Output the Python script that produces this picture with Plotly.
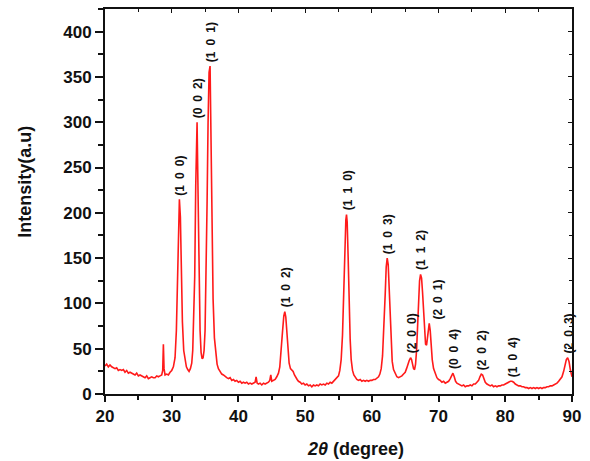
import numpy as np
import plotly.graph_objects as go

# XRD pattern: diffraction angle (2θ, degrees) and measured intensity (a.u.)
two_theta = [
    20.00, 20.25, 20.50, 20.75, 21.00, 21.25, 21.50, 21.75, 22.00, 22.25,
    22.50, 22.75, 23.00, 23.25, 23.50, 23.75, 24.00, 24.25, 24.50, 24.75,
    25.00, 25.25, 25.50, 25.75, 26.00, 26.25, 26.50, 26.75, 27.00, 27.25,
    27.50, 27.75, 28.00, 28.25, 28.50, 28.65, 28.75, 28.85, 29.00, 29.25,
    29.50, 29.75, 30.00, 30.25, 30.50, 30.70, 30.85, 31.00, 31.15, 31.30,
    31.45, 31.60, 31.80, 32.00, 32.20, 32.40, 32.60, 32.80, 33.00, 33.15,
    33.30, 33.45, 33.60, 33.70, 33.80, 33.95, 34.10, 34.25, 34.40, 34.55,
    34.70, 34.85, 35.00, 35.15, 35.30, 35.45, 35.60, 35.75, 35.90, 36.05,
    36.20, 36.40, 36.60, 36.80, 37.00, 37.25, 37.50, 37.75, 38.00, 38.25,
    38.50, 38.75, 39.00, 39.25, 39.50, 39.75, 40.00, 40.25, 40.50, 40.75,
    41.00, 41.25, 41.50, 41.75, 42.00, 42.25, 42.50, 42.65, 42.80, 43.00,
    43.25, 43.50, 43.75, 44.00, 44.25, 44.50, 44.70, 44.85, 45.00, 45.25,
    45.50, 45.75, 46.00, 46.20, 46.40, 46.60, 46.80, 46.95, 47.10, 47.25,
    47.40, 47.60, 47.80, 48.00, 48.20, 48.40, 48.60, 48.80, 49.00, 49.25,
    49.50, 49.75, 50.00, 50.25, 50.50, 50.75, 51.00, 51.25, 51.50, 51.75,
    52.00, 52.25, 52.50, 52.75, 53.00, 53.25, 53.50, 53.75, 54.00, 54.25,
    54.50, 54.75, 55.00, 55.20, 55.40, 55.60, 55.80, 55.95, 56.10, 56.20,
    56.30, 56.45, 56.60, 56.75, 56.90, 57.10, 57.30, 57.50, 57.75, 58.00,
    58.25, 58.50, 58.75, 59.00, 59.25, 59.50, 59.75, 60.00, 60.25, 60.50,
    60.75, 61.00, 61.20, 61.40, 61.60, 61.80, 62.00, 62.15, 62.30, 62.45,
    62.60, 62.75, 62.90, 63.05, 63.25, 63.50, 63.75, 64.00, 64.25, 64.50,
    64.75, 65.00, 65.20, 65.40, 65.60, 65.80, 65.95, 66.10, 66.25, 66.40,
    66.55, 66.70, 66.85, 67.00, 67.15, 67.30, 67.45, 67.60, 67.75, 67.90,
    68.05, 68.20, 68.35, 68.50, 68.60, 68.75, 68.90, 69.05, 69.25, 69.50,
    69.75, 70.00, 70.25, 70.50, 70.75, 71.00, 71.25, 71.50, 71.75, 71.95,
    72.15, 72.35, 72.55, 72.75, 73.00, 73.25, 73.50, 73.75, 74.00, 74.25,
    74.50, 74.75, 75.00, 75.25, 75.50, 75.75, 76.00, 76.20, 76.40, 76.60,
    76.80, 77.00, 77.25, 77.50, 77.75, 78.00, 78.25, 78.50, 78.75, 79.00,
    79.25, 79.50, 79.75, 80.00, 80.25, 80.50, 80.75, 81.00, 81.25, 81.50,
    81.75, 82.00, 82.25, 82.50, 82.75, 83.00, 83.25, 83.50, 83.75, 84.00,
    84.25, 84.50, 84.75, 85.00, 85.25, 85.50, 85.75, 86.00, 86.25, 86.50,
    86.75, 87.00, 87.25, 87.50, 87.75, 88.00, 88.25, 88.50, 88.75, 88.95,
    89.15, 89.35, 89.55, 89.75, 90.00,
]
intensity = [
    31, 33, 30, 32, 30, 29, 28, 29, 26, 27,
    26, 27, 24, 26, 23, 24, 23, 22, 21, 23,
    20, 21, 20, 19, 18, 20, 17, 18, 19, 18,
    18, 20, 19, 20, 21, 26, 55, 28, 21, 22,
    21, 24, 26, 30, 40, 70, 130, 190, 215, 195,
    135, 80, 48, 36, 30, 27, 25, 28, 34, 48,
    80, 130, 230, 285, 300, 220, 120, 70, 46, 39,
    40, 48, 70, 125, 210, 300, 355, 362, 270, 170,
    105, 62, 43, 33, 28, 25, 22, 21, 19, 18,
    17, 18, 15, 16, 14, 15, 13, 14, 12, 13,
    12, 13, 11, 12, 11, 12, 13, 19, 12, 11,
    12, 10, 12, 11, 12, 13, 15, 21, 14, 15,
    16, 19, 23, 30, 45, 68, 86, 91, 85, 68,
    48, 34, 28, 26, 25, 21, 18, 16, 14, 13,
    11, 12, 10, 11, 9, 10, 8, 10, 9, 10,
    9, 11, 10, 11, 10, 12, 11, 13, 12, 14,
    15, 17, 20, 26, 38, 65, 115, 165, 192, 198,
    190, 150, 100, 60, 38, 26, 21, 18, 16, 15,
    16, 14, 15, 14, 15, 14, 15, 15, 16, 16,
    18, 19, 22, 28, 42, 70, 110, 140, 150, 143,
    115, 78, 50, 36, 27, 22, 19, 18, 19, 20,
    22, 24, 28, 33, 37, 40, 38, 33, 28, 27,
    33, 48, 75, 105, 125, 132, 128, 112, 88, 66,
    55, 54, 64, 76, 78, 70, 52, 38, 28, 22,
    18, 16, 15, 13, 14, 12, 13, 14, 17, 21,
    23, 19, 14, 12, 11, 10, 9, 10, 8, 9,
    9, 10, 9, 11, 11, 13, 15, 19, 22, 21,
    17, 13, 11, 10, 9, 10, 8, 9, 8, 9,
    9, 10, 10, 11, 12, 13, 14, 14, 13, 11,
    10, 9, 9, 8, 8, 7, 7, 6, 7, 6,
    7, 6, 7, 6, 7, 6, 7, 7, 8, 8,
    9, 9, 10, 11, 12, 14, 16, 19, 25, 32,
    38, 40, 36, 27, 19,
]

# Indexed reflections (Miller indices) and their peak positions
peak_hkl = ["(1 0 0)", "(0 0 2)", "(1 0 1)", "(1 0 2)", "(1 1 0)", "(1 0 3)",
            "(2 0 0)", "(1 1 2)", "(2 0 1)", "(0 0 4)", "(2 0 2)", "(1 0 4)",
            "(2 0 3)"]
peak_two_theta = [31.15, 33.80, 35.75, 46.95, 56.20, 62.30, 65.80, 67.30,
                  68.60, 72.15, 76.40, 81.00, 89.35]

x_tick_values = [20, 30, 40, 50, 60, 70, 80, 90]
y_tick_values = [0, 50, 100, 150, 200, 250, 300, 350, 400]

FONT = "Arial, 'Liberation Sans', sans-serif"
RED = "#ff1a1a"

tt = np.array(two_theta)
yy = np.array(intensity)

fig = go.Figure()
fig.add_trace(go.Scatter(
    x=two_theta, y=intensity, mode="lines",
    line=dict(color=RED, width=1.6), showlegend=False, hoverinfo="skip",
))
# companion trace so the mirrored frame axes (top/right) are drawn
fig.add_trace(go.Scatter(x=[20], y=[0], xaxis="x2", yaxis="y2", mode="markers",
                         marker=dict(opacity=0), showlegend=False, hoverinfo="skip"))

# hkl labels, rotated, sitting on the top of each peak
for hkl, pos in zip(peak_hkl, peak_two_theta):
    window = (tt > pos - 0.35) & (tt < pos + 0.35)
    top = yy[window].max()
    fig.add_annotation(
        x=pos, y=top, xref="x", yref="y",
        text="<b>" + hkl.replace(" ", "\u2002") + "</b>",
        textangle=-90, showarrow=False,
        xanchor="center", yanchor="bottom",
        xshift=9 if hkl == "(2 0 1)" else 1, yshift=2,
        font=dict(family=FONT, size=12, color="#111111"),
    )

# axis titles
fig.add_annotation(
    x=0.5 + 17 / 474, y=-0.142, xref="paper", yref="paper",
    text="<b><i>2θ</i> (degree)</b>", showarrow=False,
    xanchor="center", yanchor="middle",
    font=dict(family=FONT, size=18, color="#111111"),
)
fig.add_annotation(
    x=-82 / 474, y=0.5 + 20 / 385, xref="paper", yref="paper",
    text="<b>Intensity(a.u)</b>", textangle=-90, showarrow=False,
    xanchor="center", yanchor="middle",
    font=dict(family=FONT, size=18, color="#111111"),
)

axis_common = dict(
    showgrid=False, zeroline=False, linecolor="#111111", linewidth=2,
    tickcolor="#111111", tickwidth=1.5,
    tickfont=dict(family=FONT, size=17, color="#111111"),
)

fig.update_layout(
    width=590, height=461,
    margin=dict(l=105, r=11, t=9, b=67),
    paper_bgcolor="white", plot_bgcolor="white",
    font=dict(family=FONT),
    xaxis=dict(
        range=[20, 90], tickvals=x_tick_values,
        ticktext=[f"<b>{v}</b>" for v in x_tick_values],
        ticks="outside", ticklen=6,
        minor=dict(dtick=5, tick0=20, ticks="outside", ticklen=4,
                   tickcolor="#111111", tickwidth=1.5),
        **axis_common,
    ),
    yaxis=dict(
        range=[0, 425], tickvals=y_tick_values,
        ticktext=[f"<b>{v}</b>" for v in y_tick_values],
        ticks="outside", ticklen=8,
        minor=dict(dtick=25, tick0=0, ticks="outside", ticklen=5,
                   tickcolor="#111111", tickwidth=1.5),
        **axis_common,
    ),
    xaxis2=dict(
        range=[20, 90], overlaying="x", side="top", anchor="y",
        tickvals=x_tick_values, showticklabels=False,
        ticks="inside", ticklen=4,
        minor=dict(dtick=5, tick0=20, ticks="inside", ticklen=3,
                   tickcolor="#111111", tickwidth=1),
        showgrid=False, zeroline=False, linecolor="#111111", linewidth=2,
        tickcolor="#111111", tickwidth=1,
    ),
    yaxis2=dict(
        range=[0, 425], overlaying="y", side="right", anchor="x",
        tickvals=y_tick_values, showticklabels=False,
        ticks="inside", ticklen=4,
        minor=dict(dtick=25, tick0=0, ticks="inside", ticklen=3,
                   tickcolor="#111111", tickwidth=1),
        showgrid=False, zeroline=False, linecolor="#111111", linewidth=2,
        tickcolor="#111111", tickwidth=1,
    ),
)

fig.write_html("out.html")
